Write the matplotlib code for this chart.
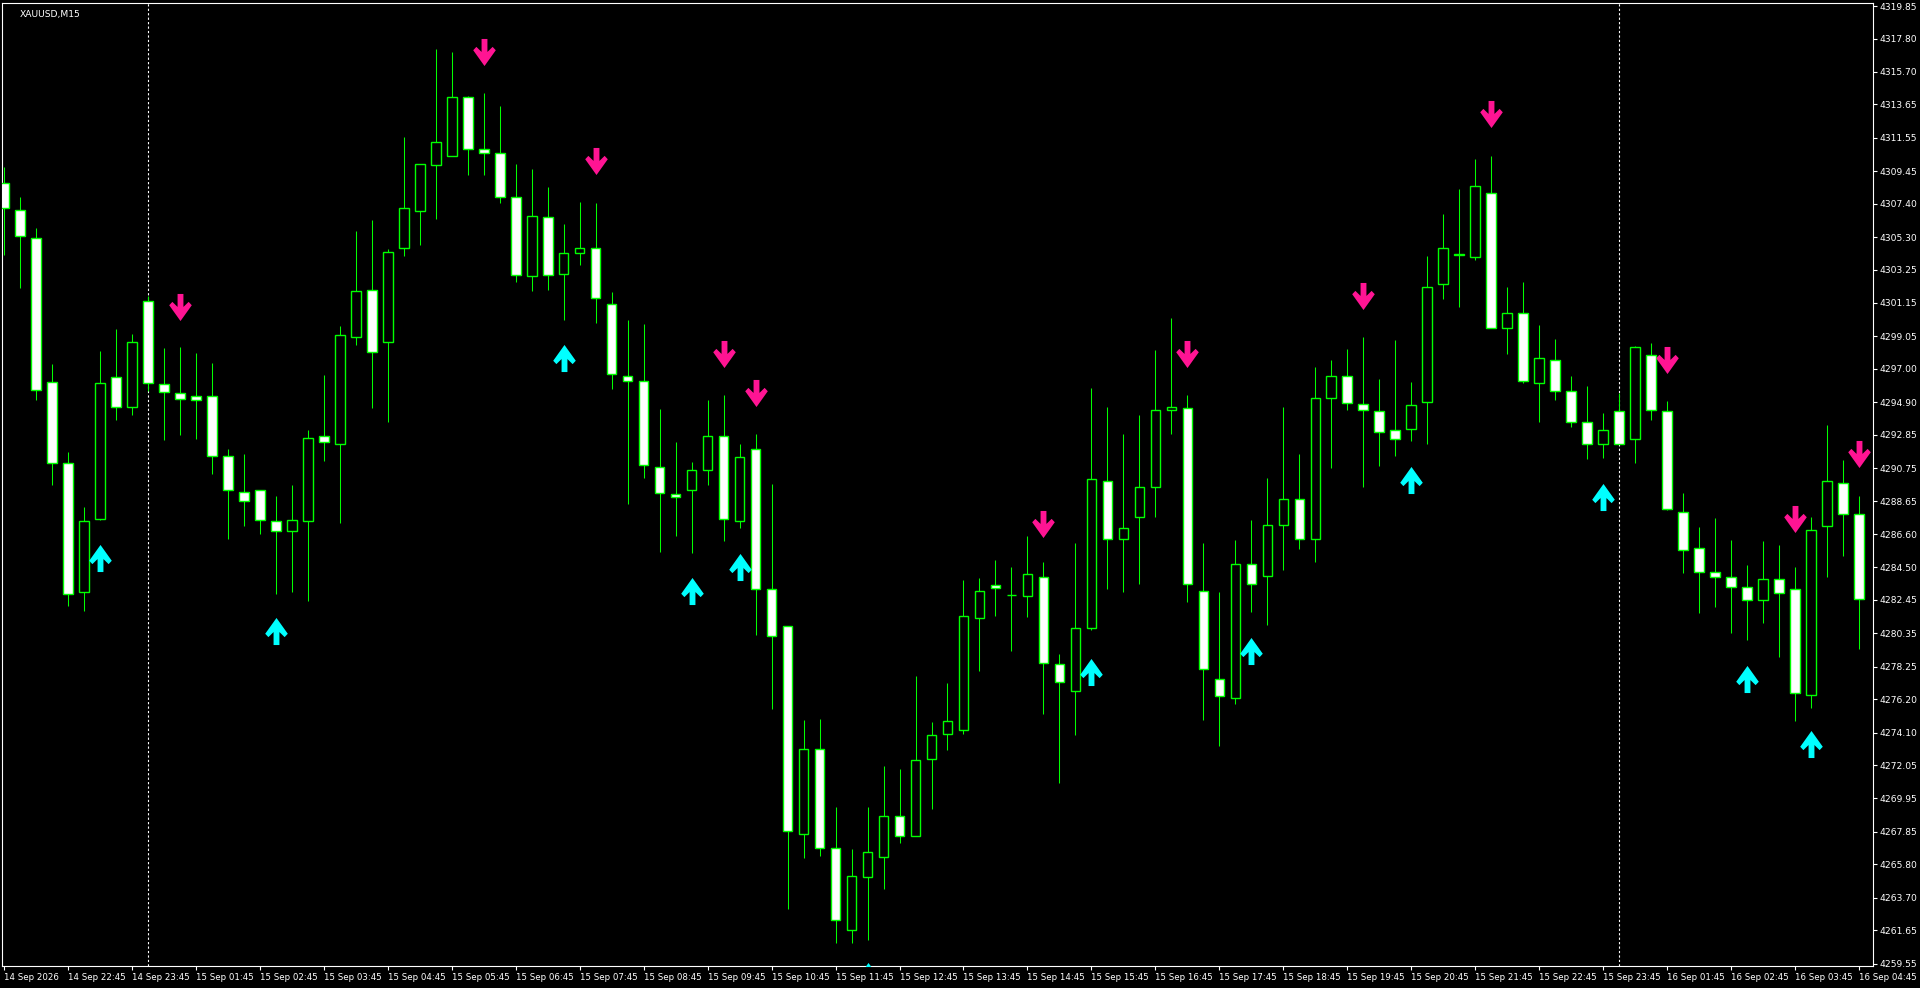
import matplotlib
matplotlib.use('Agg')
import matplotlib.pyplot as plt
from matplotlib import font_manager
from matplotlib.path import Path

# XAUUSD M15 bars
opens = [4308.72, 4307.01, 4305.27, 4296.18, 4291.10, 4282.97, 4287.57, 4296.50, 4294.63, 4301.30,
         4296.06, 4295.50, 4295.30, 4295.30, 4291.49, 4289.23, 4289.35, 4287.41, 4286.78, 4287.45,
         4292.77, 4292.25, 4299.00, 4301.97, 4298.68, 4304.59, 4306.93, 4309.83, 4310.39, 4314.12,
         4310.82, 4310.58, 4307.85, 4302.85, 4306.54, 4302.97, 4304.27, 4304.63, 4301.06, 4296.54,
         4296.26, 4290.82, 4289.15, 4289.35, 4290.66, 4292.77, 4287.45, 4291.97, 4283.16, 4280.82,
         4267.73, 4273.04, 4266.81, 4261.69, 4264.99, 4266.26, 4268.84, 4267.61, 4272.41, 4274.00,
         4274.27, 4281.34, 4283.40, 4282.77, 4282.69, 4283.92, 4278.44, 4276.69, 4280.67, 4289.95,
         4286.30, 4287.65, 4289.59, 4294.43, 4294.55, 4283.04, 4277.45, 4276.30, 4284.71, 4283.96,
         4287.17, 4288.80, 4286.30, 4295.15, 4296.58, 4294.79, 4294.36, 4293.13, 4293.24, 4294.91,
         4302.33, 4304.20, 4304.04, 4308.05, 4299.55, 4300.50, 4296.14, 4297.53, 4295.62, 4293.64,
         4292.29, 4294.36, 4292.57, 4297.88, 4294.36, 4288.00, 4285.74, 4284.24, 4283.92, 4283.28,
         4282.45, 4283.80, 4283.16, 4276.49, 4287.13, 4289.79, 4287.85]
highs = [4309.71, 4307.81, 4305.86, 4297.29, 4291.77, 4288.28, 4298.12, 4299.51, 4299.19, 4301.58,
         4298.32, 4298.36, 4298.01, 4297.37, 4291.93, 4291.65, 4289.35, 4289.00, 4289.67, 4293.13,
         4296.62, 4299.71, 4305.66, 4306.38, 4304.55, 4311.62, 4309.91, 4317.13, 4316.97, 4314.20,
         4314.35, 4313.56, 4309.91, 4309.59, 4308.44, 4306.14, 4307.53, 4307.45, 4301.85, 4300.07,
         4299.83, 4294.47, 4292.41, 4291.14, 4295.03, 4295.35, 4292.25, 4292.88, 4289.75, 4280.82,
         4274.87, 4274.95, 4269.43, 4266.77, 4269.43, 4272.02, 4271.78, 4277.69, 4274.79, 4277.22,
         4283.72, 4283.84, 4284.94, 4284.55, 4286.46, 4284.83, 4279.04, 4286.02, 4295.82, 4294.59,
         4292.92, 4294.08, 4298.20, 4300.19, 4295.35, 4286.02, 4282.97, 4286.22, 4287.49, 4290.11,
         4294.59, 4291.65, 4297.09, 4297.57, 4298.24, 4299.00, 4296.38, 4298.80, 4296.18, 4304.12,
         4306.73, 4308.32, 4310.23, 4310.43, 4302.13, 4302.45, 4299.75, 4298.88, 4296.54, 4295.90,
         4294.24, 4295.51, 4298.44, 4298.60, 4294.95, 4289.19, 4287.05, 4287.61, 4286.22, 4284.67,
         4286.14, 4285.94, 4284.55, 4287.69, 4293.48, 4291.26, 4289.00]
lows = [4304.16, 4302.09, 4295.03, 4289.67, 4282.05, 4281.74, 4287.50, 4293.80, 4294.12, 4295.62,
        4292.53, 4292.85, 4292.57, 4290.38, 4286.30, 4287.09, 4286.58, 4282.81, 4282.93, 4282.41,
        4291.18, 4287.29, 4298.48, 4294.51, 4293.64, 4304.08, 4304.79, 4306.46, 4310.39, 4309.20,
        4309.20, 4307.45, 4302.45, 4301.89, 4301.97, 4300.07, 4303.56, 4299.87, 4295.74, 4288.48,
        4290.15, 4285.50, 4286.50, 4285.43, 4289.67, 4286.18, 4286.98, 4280.27, 4275.58, 4262.96,
        4266.18, 4266.34, 4260.82, 4260.82, 4261.06, 4264.28, 4267.14, 4267.57, 4269.27, 4273.00,
        4273.99, 4277.97, 4281.46, 4279.23, 4281.38, 4275.26, 4270.90, 4273.92, 4280.55, 4283.12,
        4282.97, 4283.48, 4287.69, 4292.93, 4282.33, 4274.91, 4273.24, 4275.90, 4281.66, 4280.86,
        4284.32, 4285.63, 4284.87, 4290.74, 4294.43, 4289.55, 4290.86, 4291.53, 4292.45, 4292.25,
        4301.38, 4300.90, 4303.88, 4299.59, 4297.92, 4296.14, 4293.68, 4295.07, 4293.36, 4291.30,
        4291.38, 4292.25, 4291.10, 4293.76, 4288.09, 4284.12, 4281.62, 4281.98, 4280.39, 4279.91,
        4281.02, 4278.87, 4274.83, 4275.63, 4283.88, 4285.19, 4279.39]
closes = [4307.13, 4305.35, 4295.70, 4291.10, 4282.81, 4287.45, 4296.14, 4294.63, 4298.72, 4296.10,
          4295.54, 4295.11, 4295.07, 4291.49, 4289.35, 4288.67, 4287.49, 4286.78, 4287.49, 4292.65,
          4292.37, 4299.12, 4301.89, 4298.08, 4304.35, 4307.13, 4309.91, 4311.30, 4314.12, 4310.82,
          4310.62, 4307.85, 4302.89, 4306.62, 4302.89, 4304.32, 4304.63, 4301.46, 4296.70, 4296.26,
          4290.94, 4289.19, 4288.95, 4290.66, 4292.77, 4287.53, 4291.45, 4283.16, 4280.15, 4267.92,
          4273.04, 4266.81, 4262.29, 4265.06, 4266.57, 4268.84, 4267.57, 4272.37, 4273.96, 4274.83,
          4281.42, 4283.04, 4283.20, 4282.78, 4284.08, 4278.48, 4277.29, 4280.67, 4290.09, 4286.30,
          4287.01, 4289.59, 4294.43, 4294.63, 4283.44, 4278.08, 4276.42, 4284.71, 4283.44, 4287.17,
          4288.80, 4286.30, 4295.15, 4296.54, 4294.83, 4294.40, 4293.05, 4292.57, 4294.75, 4302.17,
          4304.63, 4304.21, 4308.52, 4299.59, 4300.50, 4296.22, 4297.69, 4295.62, 4293.64, 4292.25,
          4293.13, 4292.25, 4298.40, 4294.40, 4288.16, 4285.62, 4284.24, 4283.88, 4283.25, 4282.45,
          4283.80, 4282.89, 4276.57, 4286.85, 4289.91, 4287.89, 4282.49]

# signal arrows (bar index, price of arrow centre)
sell_bars = [11, 30, 37, 45, 47, 65, 74, 85, 93, 104, 112, 116]
sell_px = [4300.90, 4316.93, 4310.07, 4297.92, 4295.46, 4287.21, 4297.92, 4301.58, 4313.05, 4297.53, 4287.53, 4291.62]
buy_bars = [6, 17, 35, 43, 46, 54, 68, 78, 88, 100, 109, 113]
buy_px = [4285.07, 4280.47, 4297.69, 4283.04, 4284.55, 4258.77, 4277.93, 4279.23, 4290.03, 4288.95, 4277.49, 4273.40]

# day separators
sep_bars = [9, 101]

price_ticks = [4319.85, 4317.80, 4315.70, 4313.65, 4311.55, 4309.45, 4307.40, 4305.30, 4303.25, 4301.15,
               4299.05, 4297.00, 4294.90, 4292.85, 4290.75, 4288.65, 4286.60, 4284.50, 4282.45, 4280.35,
               4278.25, 4276.20, 4274.10, 4272.05, 4269.95, 4267.85, 4265.80, 4263.70, 4261.65, 4259.55]
time_ticks = list(range(0, 117, 4))
time_labels = ['14 Sep 2026', '14 Sep 22:45', '14 Sep 23:45', '15 Sep 01:45', '15 Sep 02:45',
               '15 Sep 03:45', '15 Sep 04:45', '15 Sep 05:45', '15 Sep 06:45', '15 Sep 07:45',
               '15 Sep 08:45', '15 Sep 09:45', '15 Sep 10:45', '15 Sep 11:45', '15 Sep 12:45',
               '15 Sep 13:45', '15 Sep 14:45', '15 Sep 15:45', '15 Sep 16:45', '15 Sep 17:45',
               '15 Sep 18:45', '15 Sep 19:45', '15 Sep 20:45', '15 Sep 21:45', '15 Sep 22:45',
               '15 Sep 23:45', '16 Sep 01:45', '16 Sep 02:45', '16 Sep 03:45', '16 Sep 04:45']

names = {f.name for f in font_manager.fontManager.ttflist}
if 'Liberation Sans Narrow' in names:
    fnt, fs, fsx = 'Liberation Sans Narrow', 8.5, 8
else:
    fnt, fs, fsx = 'DejaVu Sans', 6.6, 6.2

W, H = 1920, 988
fig = plt.figure(figsize=(W / 100, H / 100), dpi=100, facecolor='black')
ax = fig.add_axes([2 / W, (H - 966) / H, (1873 - 2) / W, (966 - 3) / H], facecolor='black')

green = '#00ff00'
n = len(opens)
xs = list(range(n))

# wicks
ax.vlines(xs, lows, highs, color=green, linewidth=0.75, zorder=2)

# bodies
bot = [min(o, c) for o, c in zip(opens, closes)]
hgt = [abs(c - o) for o, c in zip(opens, closes)]
fill = ['black' if c > o else 'white' for o, c in zip(opens, closes)]
ax.bar(xs, hgt, bottom=bot, width=0.62, color=fill, edgecolor=green, linewidth=1.0, zorder=3)

# period separators
for b in sep_bars:
    ax.axvline(b, color='white', linewidth=0.8, linestyle=(0, (2, 2)), zorder=1)

# arrow markers
down_v = [(-2.6, 12), (2.6, 12), (2.6, 0.5), (7.2, 5), (10, 2), (0, -12), (-10, 2), (-7.2, 5), (-2.6, 0.5), (-2.6, 12)]
up_v = [(x, -y) for x, y in down_v]
down_m = Path(down_v, closed=True)
up_m = Path(up_v, closed=True)
ax.plot(sell_bars, sell_px, linestyle='none', marker=down_m, markersize=19.5,
        color='#ff1493', markeredgewidth=0, zorder=4)
ax.plot(buy_bars, buy_px, linestyle='none', marker=up_m, markersize=19.5,
        color='#00ffff', markeredgewidth=0, zorder=4)

ax.set_xlim(-0.1, 116.85)
ax.set_ylim(4259.40, 4320.04)

for s in ax.spines.values():
    s.set_color('white')
    s.set_linewidth(0.8)

ax.yaxis.tick_right()
ax.set_yticks(price_ticks)
ax.set_yticklabels(['%.2f' % p for p in price_ticks], fontfamily=fnt, fontsize=fs)
ax.set_xticks(time_ticks)
ax.set_xticklabels(time_labels, fontfamily=fnt, fontsize=fsx, ha='left')
ax.tick_params(axis='both', colors='white', length=3, width=0.8, pad=2)

ax.text(18 / 1871, 1 - 7 / 963, 'XAUUSD,M15', transform=ax.transAxes, color='white',
        fontfamily=fnt, fontsize=fs, va='top', ha='left')

fig.savefig('out.png', dpi=100, facecolor='black')
